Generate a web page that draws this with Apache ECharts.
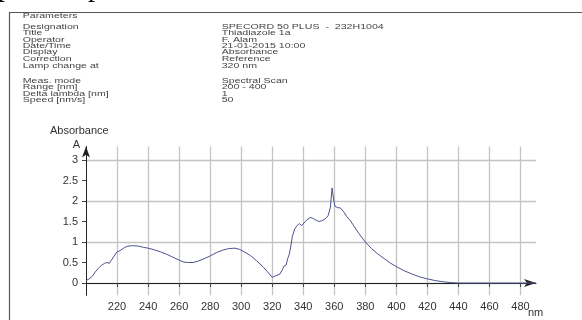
<!DOCTYPE html>
<html>
<head>
<meta charset="utf-8">
<script src="https://cdn.jsdelivr.net/npm/echarts@6/dist/echarts.min.js"></script>
<style>
html,body{margin:0;padding:0;background:#fff;}
#chart{width:582px;height:320px;}
</style>
</head>
<body>
<div id="chart"></div>
<script>
// Wavelength (nm) and absorbance values
const wavelengths = [200,202,204,206,208,210,212,213.5,215,216,218,220,222,223,225,227,230,234,237,240,244,248,252,256,260,263,266,269,272,276,280,284,288,292,296,299,302,306,310,314,317,320,322,325,326.5,327.5,329,330,331,332,333,334.5,336,337.5,339,340,342,344.5,346,348,350,352,354,356,357.5,358.6,359.5,360.5,362,364,366,368,370,373,376,380,384,388,392,396,400,405,410,415,420,425,430,435,440,450,460,470,480,490];
const absorbance = [0.06,0.10,0.16,0.27,0.36,0.43,0.48,0.50,0.48,0.52,0.65,0.76,0.79,0.80,0.87,0.90,0.91,0.90,0.87,0.85,0.81,0.76,0.70,0.63,0.56,0.51,0.50,0.50,0.53,0.59,0.66,0.74,0.80,0.84,0.85,0.82,0.76,0.67,0.54,0.40,0.27,0.14,0.17,0.22,0.32,0.41,0.44,0.60,0.70,0.90,1.14,1.32,1.40,1.45,1.40,1.42,1.53,1.60,1.58,1.54,1.50,1.52,1.56,1.64,1.85,2.32,2.05,1.87,1.84,1.83,1.74,1.62,1.54,1.37,1.20,1.00,0.84,0.71,0.60,0.49,0.40,0.30,0.22,0.15,0.10,0.06,0.03,0.01,0.00,0.00,0.00,0.00,0.00,0.00];

const paramLabels = ['Designation','Title','Operator','Date/Time','Display','Correction','Lamp change at'];
const paramValues = ['SPECORD 50 PLUS  -  232H1004','Thiadiazole 1a','F. Alam','21-01-2015 10:00','Absorbance','Reference','320 nm'];
const measLabels = ['Meas. mode','Range [nm]','Delta lambda [nm]','Speed [nm/s]'];
const measValues = ['Spectral Scan','200 - 400','1','50'];
const xUnit = 'nm';

const FONT = 'Liberation Sans, Arial, sans-serif';
const chart = echarts.init(document.getElementById('chart'), null, {renderer:'canvas'});

const graphics = [];
graphics.push({type:'rect', shape:{x:9.5,y:12.5,width:620,height:400}, style:{fill:'none', stroke:'#555', lineWidth:1.2}, silent:true});
graphics.push({type:'text', x:-2, y:2.5, style:{text:'p', font:'28px Liberation Serif', fill:'#000', verticalAlign:'bottom'}});
graphics.push({type:'text', x:88, y:2.5, style:{text:'p', font:'28px Liberation Serif', fill:'#000', verticalAlign:'bottom'}});
function headerText(t, x, y){
  graphics.push({type:'text', x:x, y:y, scaleY:0.7, scaleX:1.06,
    style:{text:t, fontSize:10, fontFamily:FONT, fill:'#444', verticalAlign:'middle'}});
}
headerText('Parameters', 22.7, 15.7);
const yParam = [27,33.3,39.6,45.9,52.5,59.2,65.8];
paramLabels.forEach((t,i)=>headerText(t, 22.7, yParam[i]));
paramValues.forEach((t,i)=>headerText(t, 221.7, yParam[i]));
const yMeas = [81,87.3,93.7,100];
measLabels.forEach((t,i)=>headerText(t, 22.7, yMeas[i]));
measValues.forEach((t,i)=>headerText(t, 221.7, yMeas[i]));
// x-axis unit, placed under the arrow head
graphics.push({type:'text', x:528, y:313, style:{text:xUnit, fontSize:11, fontFamily:FONT, fill:'#333', verticalAlign:'middle'}});

const option = {
  animation:false,
  backgroundColor:'#fff',
  title:{text:'Absorbance', left:50, top:125, padding:0,
    textStyle:{fontSize:11, fontWeight:'normal', color:'#333', fontFamily:FONT}},
  grid:{left:86, right:46, top:146.5, bottom:24.7, containLabel:false},
  xAxis:{
    type:'value', min:200, max:490, interval:20,
    axisLine:{show:true, lineStyle:{color:'#222', width:1}, symbol:['none','arrow'], symbolSize:[6,12]},
    axisTick:{show:true, length:4, lineStyle:{color:'#444'}},
    axisLabel:{fontSize:11, color:'#333', fontFamily:FONT, margin:6, showMinLabel:false, showMaxLabel:false},
    splitLine:{show:true, showMinLine:false, showMaxLine:false, lineStyle:{color:'#c4c4c4', width:1.3}}
  },
  yAxis:[{
    type:'value', min:-0.3, max:3.33, minInterval:0.5, maxInterval:0.5, splitNumber:7,
    name:'A', nameLocation:'end', nameGap:1.5,
    nameTextStyle:{fontSize:11, color:'#333', fontFamily:FONT, align:'right', verticalAlign:'middle', padding:[0,6,0,0]},
    axisLine:{show:true, lineStyle:{color:'#222', width:1}, symbol:['none','arrow'], symbolSize:[6,11]},
    axisTick:{show:true, length:4, lineStyle:{color:'#444'}},
    axisLabel:{fontSize:11, color:'#333', fontFamily:FONT, margin:8, showMinLabel:false, showMaxLabel:false},
    splitLine:{show:false}
  },{
    type:'value', min:-0.3, max:3.33, minInterval:1, maxInterval:1, splitNumber:4, position:'left',
    axisLine:{show:false}, axisTick:{show:false}, axisLabel:{show:false},
    splitLine:{show:true, showMinLine:false, showMaxLine:false, lineStyle:{color:'#c4c4c4', width:1.3}}
  }],
  series:[{
    type:'line', yAxisIndex:0, showSymbol:false, symbol:'none',
    data: wavelengths.map((w,i)=>[w, absorbance[i]]),
    lineStyle:{color:'#4d5190', width:1},
    z:5
  }],
  graphic: graphics
};
chart.setOption(option);
</script>
</body>
</html>
